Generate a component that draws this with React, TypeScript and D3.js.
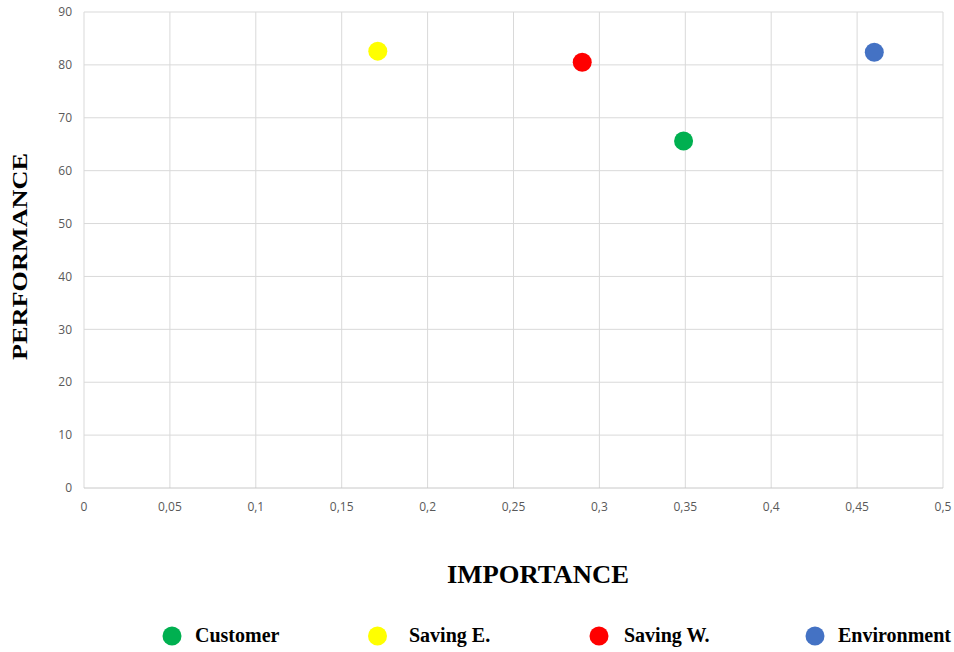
import React from "react";
import * as d3 from "d3";

const series = ["Customer", "Saving E.", "Saving W.", "Environment"];
const importance = [0.349, 0.171, 0.29, 0.46];
const performance = [65.6, 82.6, 80.5, 82.4];
const colors = ["#00b050", "#ffff00", "#ff0000", "#4472c4"];
const xTicks = [0, 0.05, 0.1, 0.15, 0.2, 0.25, 0.3, 0.35, 0.4, 0.45, 0.5];
const yTicks = [0, 10, 20, 30, 40, 50, 60, 70, 80, 90];
const legendX = [172, 377.5, 599, 815];
const legendTextX = [195, 409, 624, 838];

export default function App() {
  const W = 954, H = 652;
  const m = { left: 84, right: 943, top: 12, bottom: 488 };
  const x = d3.scaleLinear().domain([0, 0.5]).range([m.left, m.right]);
  const y = d3.scaleLinear().domain([0, 90]).range([m.bottom, m.top]);
  const fmt = (v: number) => String(v).replace(".", ",");
  const tickFont = "'Open Sans', 'Liberation Sans', sans-serif";
  const serif = "'Liberation Serif', 'Times New Roman', serif";
  return (
    <svg width={W} height={H} style={{ position: "absolute", left: 0, top: 0, background: "#fff" }}>
      <g>
        {xTicks.map((t) => (
          <line key={"gx" + t} x1={x(t)} x2={x(t)} y1={m.top} y2={m.bottom} stroke="#d9d9d9" strokeWidth={1} />
        ))}
        {yTicks.map((t) => (
          <line key={"gy" + t} x1={m.left} x2={m.right} y1={y(t)} y2={y(t)} stroke={t === 0 ? "#c8c8c8" : "#d9d9d9"} strokeWidth={1} />
        ))}
      </g>
      <g fontFamily={tickFont} fontSize={12} fill="#595959">
        {yTicks.map((t) => (
          <text key={"ty" + t} x={72} y={y(t)} dy="0.35em" textAnchor="end">{t}</text>
        ))}
        {xTicks.map((t) => (
          <text key={"tx" + t} x={x(t)} y={507} dy="0.35em" textAnchor="middle">{fmt(t)}</text>
        ))}
      </g>
      <g>
        {series.map((s, i) => (
          <circle key={s} cx={x(importance[i])} cy={y(performance[i])} r={9.5} fill={colors[i]} />
        ))}
      </g>
      <text x={447} y={583} textLength={182} lengthAdjust="spacingAndGlyphs" fontFamily={serif} fontWeight="bold" fontSize={25} fill="#000">IMPORTANCE</text>
      <text transform="translate(27,360) rotate(-90)" textLength={207} lengthAdjust="spacingAndGlyphs" fontFamily={serif} fontWeight="bold" fontSize={22} fill="#000">PERFORMANCE</text>
      <g>
        {series.map((s, i) => (
          <g key={"lg" + s}>
            <circle cx={legendX[i]} cy={636} r={9.5} fill={colors[i]} />
            <text x={legendTextX[i]} y={642} fontFamily={serif} fontWeight="bold" fontSize={20} fill="#000">{s}</text>
          </g>
        ))}
      </g>
    </svg>
  );
}
